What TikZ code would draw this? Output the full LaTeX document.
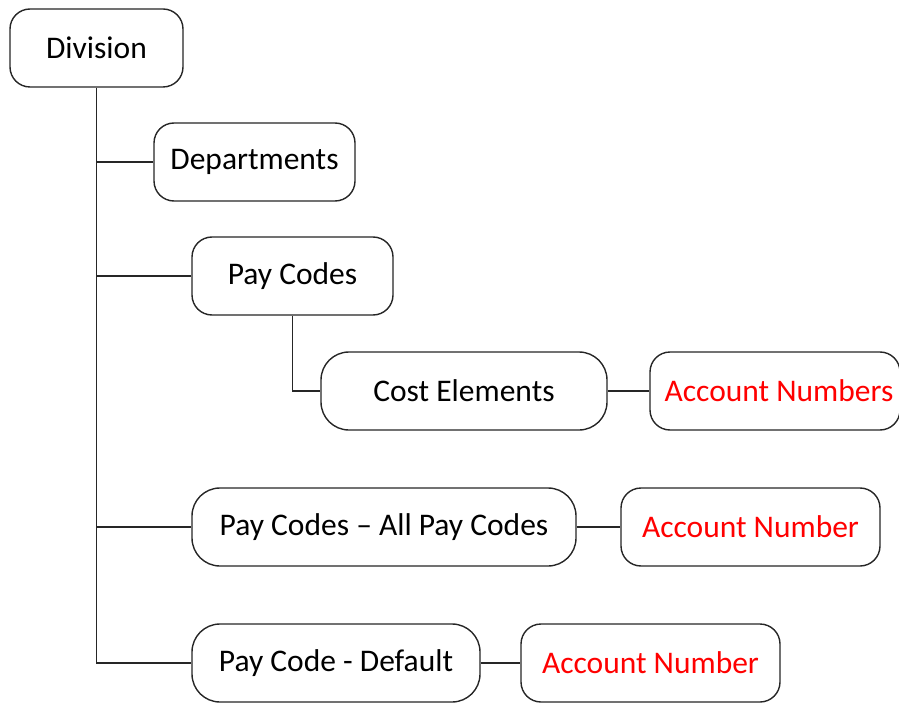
\documentclass[tikz,border=0pt]{standalone}
\usepackage{fontspec}
\setmainfont{Carlito}
\usetikzlibrary{positioning}
\definecolor{accred}{RGB}{255,0,0}
\tikzset{
  box/.style={draw=black!85, line width=1.4pt, rounded corners=20pt, fill=white,
    minimum height=78pt, inner sep=0pt, font=\fontsize{31.5}{35}\selectfont, text=black},
  wbox/.style={box, rounded corners=28pt},
  acc/.style={box, text=accred},
  link/.style={draw=black!85, line width=1.4pt}
}
\begin{document}
\begin{tikzpicture}[x=1pt,y=-1pt]
\useasboundingbox (0,0) rectangle (899,703);
\node[box, minimum width=173pt] (div) at (96.5,48) {Division};
\node[box, minimum width=201pt] (dep) at (254.5,162) {Departments};
\node[box, minimum width=201pt] (pay) at (292.5,276) {Pay Codes};
\node[wbox, minimum width=286pt] (cost) at (464,391) {Cost Elements};
\node[acc, minimum width=250pt] (accs) at (775,391) {\hspace*{8pt}Account Numbers};
\node[wbox, minimum width=384pt] (all) at (384,527) {Pay Codes -- All Pay Codes};
\node[acc, minimum width=259pt] (acc1) at (750.5,527) {Account Number};
\node[wbox, minimum width=288pt] (def) at (336,663) {Pay Code - Default};
\node[acc, minimum width=259pt] (acc2) at (650.5,663) {Account Number};
\path[link] (div.south) |- (def.west);
\path[link] (div.south |- dep.west) -- (dep.west);
\path[link] (div.south |- pay.west) -- (pay.west);
\path[link] (div.south |- all.west) -- (all.west);
\path[link] (pay.south) |- (cost.west);
\path[link] (cost.east) -- (accs.west);
\path[link] (all.east) -- (acc1.west);
\path[link] (def.east) -- (acc2.west);
\end{tikzpicture}
\end{document}
